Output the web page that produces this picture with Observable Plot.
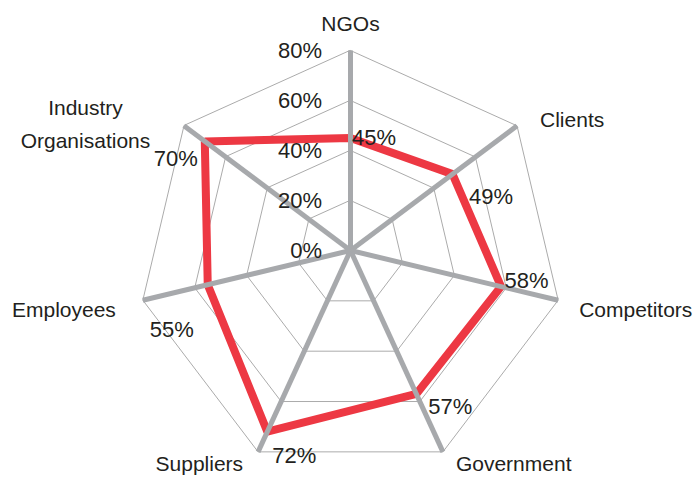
<!DOCTYPE html>
<html><head><meta charset="utf-8">
<script src="https://cdn.jsdelivr.net/npm/d3@7"></script>
<script src="https://cdn.jsdelivr.net/npm/@observablehq/plot@0.6"></script>
<style>body{margin:0;background:#fff}</style>
</head><body><div id="chart"></div>
<script>
// ---- data ----
const categories = ["NGOs", "Clients", "Competitors", "Government", "Suppliers", "Employees", "Industry\nOrganisations"];
const values = [0.45, 0.49, 0.58, 0.57, 0.72, 0.55, 0.70];
const valueLabels = ["45%", "49%", "58%", "57%", "72%", "55%", "70%"];
const ringLevels = [0.2, 0.4, 0.6, 0.8];
const tickValues = [0, 0.2, 0.4, 0.6, 0.8];
const tickLabels = ["0%", "20%", "40%", "60%", "80%"];
const maxValue = 0.8;

// ---- layout (label offsets, px) ----
const lowerStretch = 1.1175; // the reference's web is taller below its hub
const catLayout = [
  {anchor: "middle", dx: 0, dy: -30},
  {anchor: "start", dx: 23, dy: -9},
  {anchor: "start", dx: 21, dy: 6},
  {anchor: "start", dx: 13, dy: 9},
  {anchor: "end", dx: -15, dy: 9},
  {anchor: "end", dx: -27, dy: 6},
  {anchor: "middle", dx: -98.5, dy: -5}
];
const valLayout = [
  {anchor: "start", dx: 1.5, dy: 0},
  {anchor: "start", dx: 16.5, dy: 23},
  {anchor: "start", dx: 3.5, dy: -6},
  {anchor: "start", dx: 12, dy: 13},
  {anchor: "start", dx: 5, dy: 24},
  {anchor: "end", dx: -14, dy: 45},
  {anchor: "end", dx: -7, dy: 17.5}
];

const n = categories.length;
const ang = i => 2 * Math.PI * i / n;
const px = (v, i) => (v / maxValue) * Math.sin(ang(i));
const py = (v, i) => { const c = (v / maxValue) * Math.cos(ang(i)); return c < 0 ? c * lowerStretch : c; };

const rings = ringLevels.flatMap(v => d3.range(n).map(i => ({ring: v, x: px(v, i), y: py(v, i)})));
const spokes = categories.map((c, i) => ({c, x1: 0, y1: 0, x2: px(maxValue, i), y2: py(maxValue, i)}));
const series = values.map((v, i) => ({x: px(v, i), y: py(v, i)}));
const ticks = tickValues.map((v, i) => ({x: 0, y: py(v, 0), label: tickLabels[i]}));

const font = "'Liberation Sans', Arial, Helvetica, sans-serif";
const textColor = "#231f20";

const catMarks = categories.map((c, i) => Plot.text([{x: px(maxValue, i), y: py(maxValue, i), t: c}], {
  x: "x", y: "y", text: "t",
  textAnchor: catLayout[i].anchor, dx: catLayout[i].dx, dy: catLayout[i].dy,
  fontSize: 21, fill: textColor, lineHeight: 1.57
}));
const valMarks = values.map((v, i) => Plot.text([{x: px(v, i), y: py(v, i), t: valueLabels[i]}], {
  x: "x", y: "y", text: "t",
  textAnchor: valLayout[i].anchor, dx: valLayout[i].dx, dy: valLayout[i].dy,
  fontSize: 22, fill: textColor
}));

const chart = Plot.plot({
  width: 697, height: 477,
  margin: 0,
  style: {fontFamily: font, background: "#fff"},
  x: {domain: [-1, 1], range: [137, 563], axis: null},
  y: {domain: [-1, 1], range: [450, 50], axis: null},
  marks: [
    Plot.line(rings, {x: "x", y: "y", z: "ring", curve: "linear-closed", stroke: "#ababab", strokeWidth: 1}),
    Plot.line(series, {x: "x", y: "y", curve: "linear-closed", stroke: "#ed3843", strokeWidth: 8, strokeLinejoin: "miter"}),
    Plot.link(spokes, {x1: "x1", y1: "y1", x2: "x2", y2: "y2", stroke: "#a7a9ac", strokeWidth: 5, strokeLinecap: "butt"}),
    Plot.text(ticks, {x: "x", y: "y", text: "label",
      textAnchor: "end", dx: -28.5, dy: 0.5, fontSize: 22, fill: textColor}),
    ...valMarks,
    ...catMarks
  ]
});
document.getElementById("chart").append(chart);
</script>
</body></html>
